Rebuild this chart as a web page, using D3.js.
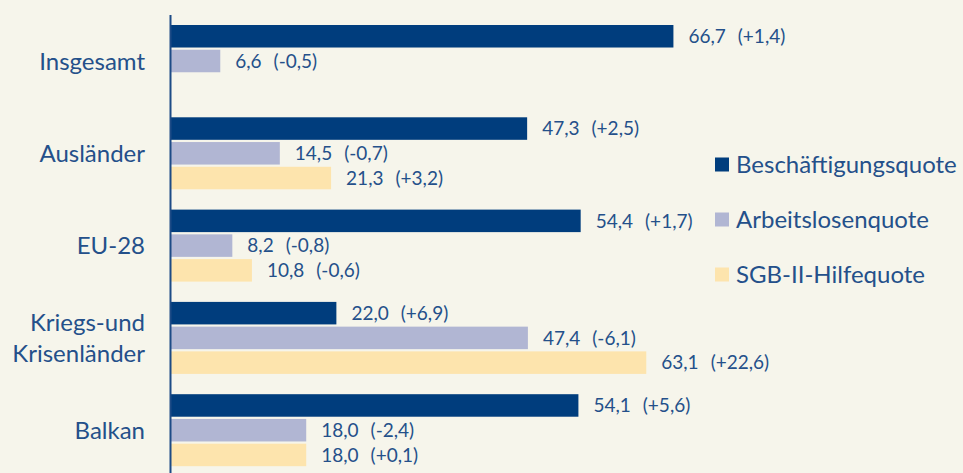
<!DOCTYPE html>
<html><head><meta charset="utf-8">
<script src="https://cdn.jsdelivr.net/npm/d3@7"></script>
<style>
html,body{margin:0;padding:0;background:#f6f5eb;}
svg{display:block;}
text{font-family:Lato,"Noto Sans",sans-serif;fill:#24508a;}
</style></head>
<body>
<svg id="chart" width="963" height="473"></svg>
<script>
const categories = ["Insgesamt", "Ausländer", "EU-28", "Kriegs-und\nKrisenländer", "Balkan"];
const series = ["Beschäftigungsquote", "Arbeitslosenquote", "SGB-II-Hilfequote"];
const beschaeftigung = [66.7, 47.3, 54.4, 22.0, 54.1];
const beschaeftigungDelta = [1.4, 2.5, 1.7, 6.9, 5.6];
const arbeitslos = [6.6, 14.5, 8.2, 47.4, 18.0];
const arbeitslosDelta = [-0.5, -0.7, -0.8, -6.1, -2.4];
const sgb = [null, 21.3, 10.8, 63.1, 18.0];
const sgbDelta = [null, 3.2, -0.6, 22.6, 0.1];
const colors = ["#003d7d", "#b1b6d3", "#fde4ad"];

const values = [beschaeftigung, arbeitslos, sgb];
const deltas = [beschaeftigungDelta, arbeitslosDelta, sgbDelta];

const svg = d3.select("#chart");
const W = 963, H = 473;
svg.append("rect").attr("width", W).attr("height", H).attr("fill", "#f6f5eb");

const x = d3.scaleLinear().domain([0, 100]).range([170.5, 924.5]);
const y0 = d3.scaleBand().domain(categories).range([25, 25 + 5 * 92.3]).padding(0);
const y1 = d3.scaleBand().domain(series).range([0, 72]).paddingInner(0.09).paddingOuter(0);

const fmt = v => d3.format(".1f")(Math.abs(v)).replace(".", ",");
const fmtVal = v => fmt(v);
const fmtDelta = v => "(" + (v < 0 ? "-" : "+") + fmt(v) + ")";

const rows = [];
categories.forEach((c, i) => {
  series.forEach((s, j) => {
    const v = values[j][i];
    if (v != null) rows.push({c, s, j, v, d: deltas[j][i]});
  });
});

const g = svg.append("g");
g.selectAll("rect.bar").data(rows).join("rect")
  .attr("class", "bar")
  .attr("x", x(0))
  .attr("y", d => y0(d.c) + y1(d.s))
  .attr("width", d => x(d.v) - x(0))
  .attr("height", y1.bandwidth())
  .attr("fill", d => colors[d.j]);

const lbl = g.selectAll("text.val").data(rows).join("text")
  .attr("class", "val")
  .attr("x", d => x(d.v) + 15)
  .attr("y", d => y0(d.c) + y1(d.s) + y1.bandwidth() / 2)
  .attr("dy", "0.36em")
  .style("font-size", "19px");
lbl.append("tspan").text(d => fmtVal(d.v));
lbl.append("tspan").attr("dx", 12).text(d => fmtDelta(d.d));

// axis line
svg.append("line")
  .attr("x1", x(0)).attr("x2", x(0))
  .attr("y1", 15).attr("y2", H)
  .attr("stroke", "#1d4b86").attr("stroke-width", 2);

// category labels
const cl = svg.selectAll("text.cat").data(categories).join("text")
  .attr("class", "cat")
  .attr("text-anchor", "end")
  .style("font-size", "24px");
cl.each(function(c) {
  const lines = c.split("\n");
  const cy = y0(c) + 36;
  const lh = 31;
  const t = d3.select(this);
  lines.forEach((ln, k) => {
    t.append("tspan")
      .attr("x", 145)
      .attr("y", cy + (k - (lines.length - 1) / 2) * lh)
      .attr("dy", "0.36em")
      .text(ln);
  });
});

// legend
const lg = svg.append("g").selectAll("g").data(series).join("g")
  .attr("transform", (d, i) => `translate(715,${164.5 + i * 55})`);
lg.append("rect").attr("x", 0).attr("y", -7).attr("width", 14).attr("height", 14)
  .attr("fill", (d, i) => colors[i]);
lg.append("text").attr("x", 21).attr("y", 0).attr("dy", "0.36em")
  .style("font-size", "24px").text(d => d);
</script>
</body></html>
